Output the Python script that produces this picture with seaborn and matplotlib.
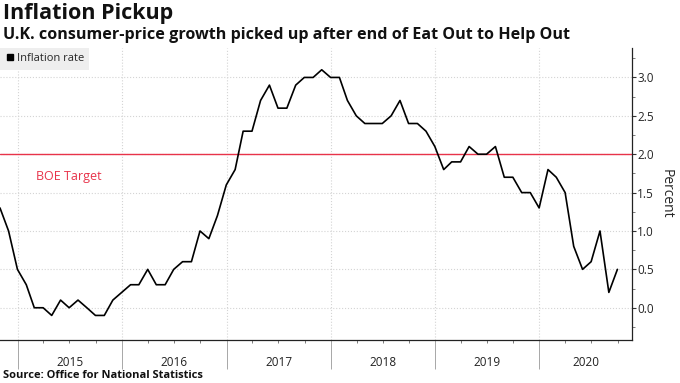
import matplotlib
matplotlib.use("Agg")
import matplotlib.pyplot as plt
import matplotlib.transforms as mtransforms
import matplotlib.dates as mdates
from matplotlib.lines import Line2D
from matplotlib.ticker import MultipleLocator
import pandas as pd
import seaborn as sns

# UK CPI, monthly (plotted at month end)
months = pd.date_range("2014-10-31", "2020-09-30", freq="ME")
inflation = [1.3, 1.0, 0.5,
             0.3, 0.0, 0.0, -0.1, 0.1, 0.0, 0.1, 0.0, -0.1, -0.1, 0.1, 0.2,
             0.3, 0.3, 0.5, 0.3, 0.3, 0.5, 0.6, 0.6, 1.0, 0.9, 1.2, 1.6,
             1.8, 2.3, 2.3, 2.7, 2.9, 2.6, 2.6, 2.9, 3.0, 3.0, 3.1, 3.0,
             3.0, 2.7, 2.5, 2.4, 2.4, 2.4, 2.5, 2.7, 2.4, 2.4, 2.3, 2.1,
             1.8, 1.9, 1.9, 2.1, 2.0, 2.0, 2.1, 1.7, 1.7, 1.5, 1.5, 1.3,
             1.8, 1.7, 1.5, 0.8, 0.5, 0.6, 1.0, 0.2, 0.5]
years = [2015, 2016, 2017, 2018, 2019, 2020]
boe_target = 2.0

df = pd.DataFrame({"date": months, "rate": inflation})

sns.set_theme(style="white")
plt.rcParams["font.family"] = ["Open Sans", "DejaVu Sans"]

fig = plt.figure(figsize=(6.8, 3.83), dpi=100)
ax = fig.add_axes([0.0, 43 / 383, 631.7 / 680, (340 - 47.5) / 383])

sns.lineplot(data=df, x="date", y="rate", ax=ax, color="black", linewidth=1.2)
ax.axhline(boe_target, color="#e8334a", linewidth=1.0, zorder=1)
ax.text(pd.Timestamp("2015-03-05"), 1.71, "BOE Target", color="#e8334a",
        fontsize=9, va="center", ha="left")

ax.set_xlim(pd.Timestamp("2014-10-31"), pd.Timestamp("2020-11-19"))
ax.set_ylim(-0.42, 3.39)

# y axis on the right
ax.yaxis.tick_right()
ax.yaxis.set_label_position("right")
ax.yaxis.set_major_locator(MultipleLocator(0.5))
ax.yaxis.set_minor_locator(MultipleLocator(0.25))
ax.yaxis.set_major_formatter(matplotlib.ticker.FormatStrFormatter("%.1f"))
ax.set_ylabel("Percent", rotation=-90, labelpad=14, fontsize=10)
ax.tick_params(axis="y", which="major", length=3, width=0.8, color="#333333",
               labelsize=8.5, pad=1, right=True, left=False)
ax.tick_params(axis="y", which="minor", length=2.5, width=0.6, color="#666666",
               right=True, left=False)

# x axis: long year ticks, quarter minor ticks, labels centered in each year
ax.xaxis.set_major_locator(mdates.YearLocator())
ax.xaxis.set_minor_locator(mdates.MonthLocator(bymonth=[4, 7, 10]))
ax.xaxis.set_major_formatter(matplotlib.ticker.NullFormatter())
ax.tick_params(axis="x", which="major", length=21, width=0.6, color="#999999",
               bottom=True)
ax.tick_params(axis="x", which="minor", length=2.5, width=0.6, color="#666666",
               bottom=True)
ax.set_xlabel("")

x0, x1 = ax.get_xlim()
trans = mtransforms.blended_transform_factory(ax.transData, fig.transFigure)
for yr in years:
    a = max(mdates.date2num(pd.Timestamp(f"{yr}-01-01")), x0)
    b = min(mdates.date2num(pd.Timestamp(f"{yr + 1}-01-01")), x1)
    ax.text((a + b) / 2, (383 - 362) / 383, str(yr), transform=trans,
            ha="center", va="center", fontsize=8.5, color="#222222")

ax.grid(True, which="major", axis="both", color="#d4d4d4", linestyle=":",
        linewidth=0.8)
for side in ["top", "left"]:
    ax.spines[side].set_visible(False)
ax.spines["right"].set_color("#222222")
ax.spines["bottom"].set_color("#222222")
ax.spines["right"].set_linewidth(0.9)
ax.spines["bottom"].set_linewidth(0.9)

handle = Line2D([], [], marker="s", color="black", linestyle="none",
                markersize=5)
leg = ax.legend([handle], ["Inflation rate"], loc="upper left",
                bbox_to_anchor=(0, 1), borderaxespad=0, frameon=True,
                fancybox=False, fontsize=8, handletextpad=0.2,
                handlelength=0.8, borderpad=0.5)
leg.get_frame().set_facecolor("#eeeeee")
leg.get_frame().set_edgecolor("none")
leg.get_frame().set_alpha(1)

fig.text(3 / 680, 1 - 14 / 383, "Inflation Pickup", fontsize=15.5,
         fontweight="bold", va="center", ha="left", color="#111111")
fig.text(3 / 680, 1 - 35 / 383,
         "U.K. consumer-price growth picked up after end of Eat Out to Help Out",
         fontsize=11.6, fontweight="bold", va="center", ha="left",
         color="#111111")
fig.text(3 / 680, 1 - 376 / 383, "Source: Office for National Statistics",
         fontsize=8, fontweight="bold", va="center", ha="left",
         color="#111111")

fig.savefig("out.png", dpi=100)
